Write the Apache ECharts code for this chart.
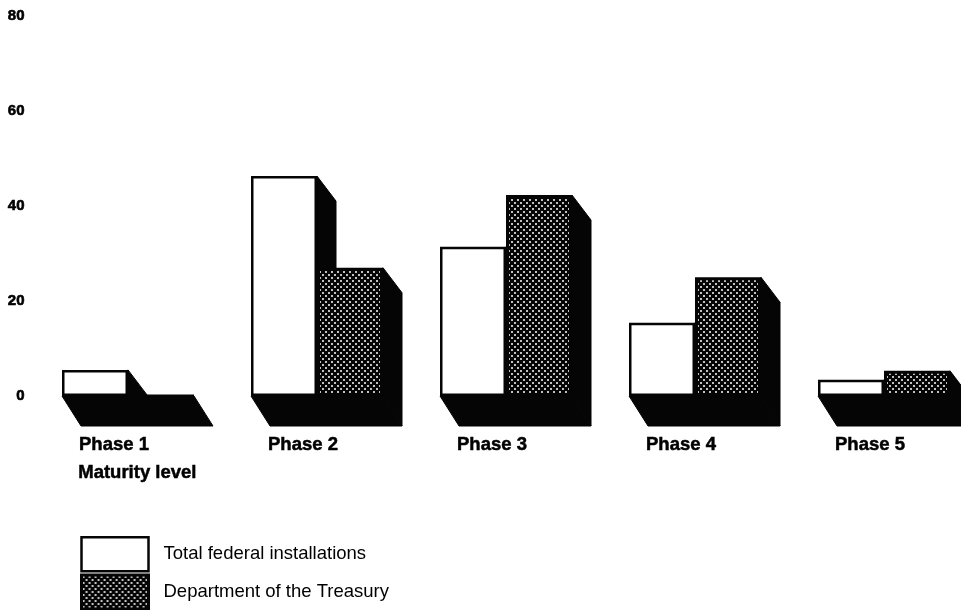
<!DOCTYPE html>
<html><head><meta charset="utf-8">
<style>html,body{margin:0;padding:0;background:#fff}#c{width:961px;height:610px;filter:blur(0.5px)}</style>
<script src="https://cdn.jsdelivr.net/npm/echarts@6/dist/echarts.min.js"></script>
</head><body><div id="c"></div>
<script>
const categories = ['Phase 1','Phase 2','Phase 3','Phase 4','Phase 5'];
const totalFederal = [5.5,46.3,31.4,15.4,3.4];
const treasury = [0,27,42.3,25,5.3];
const yTicks = [0,20,40,60,80];

const tile = document.createElement('canvas');
tile.width = 6; tile.height = 6;
const g = tile.getContext('2d');
g.fillStyle = '#050505'; g.fillRect(0,0,6,6);
g.fillStyle = '#c0c0c0'; g.fillRect(1,1,2,2); g.fillRect(4,4,2,2);
const pattern = {image: tile, repeat: 'repeat'};

const chart = echarts.init(document.getElementById('c'), null, {renderer:'canvas'});
const BAR = 66, DX = 19, TOPDY = 25, FLOOR = 30;

function renderShadow(params, api){
  const i = api.value(0);
  const zero = api.coord([i,0]);
  const cx = zero[0], y0 = zero[1];
  const a = api.coord([i, api.value(1)])[1];
  const b = api.coord([i, api.value(2)])[1];
  const floor = y0 + FLOOR;
  const l = cx-BAR, r = cx+BAR;
  const polys = [
    [[l,y0],[r,y0],[r+DX,floor],[l+DX,floor]],
    [[cx,a],[cx+DX,a+TOPDY],[cx+DX,y0+1],[cx,y0+1]]
  ];
  if (b < y0 - 0.5) polys.push([[r,b],[r+DX,b+TOPDY],[r+DX,floor],[r,y0]]);
  return {type:'group',children:polys.map(p=>({
    type:'polygon',shape:{points:p},style:{fill:'#050505',stroke:'#050505',lineWidth:1}
  }))};
}

chart.setOption({
  animation:false,
  backgroundColor:'#fff',
  textStyle:{fontFamily:'Liberation Sans'},
  grid:{left:33.5,top:16,width:945,height:380,outerBoundsMode:'none'},
  xAxis:{type:'category',data:categories,boundaryGap:true,
    axisLine:{show:false},axisTick:{show:false},splitLine:{show:false},
    axisLabel:{color:'#000',fontWeight:'bold',fontSize:18.5,fontFamily:'Liberation Sans',margin:39,padding:[0,28,0,0],interval:0,
      textBorderColor:'#000',textBorderWidth:0.5}},
  yAxis:{type:'value',min:0,max:80,interval:20,
    axisLine:{show:false},axisTick:{show:false},splitLine:{show:false},
    axisLabel:{color:'#000',fontWeight:'bold',fontSize:15,fontFamily:'Liberation Sans',margin:9,
      textBorderColor:'#000',textBorderWidth:0.6,customValues:yTicks}},
  legend:{orient:'vertical',left:80,top:536,height:120,width:500,padding:0,itemWidth:67,itemHeight:34,itemGap:1,
    textStyle:{color:'#000',fontSize:18.5,fontFamily:'Liberation Sans',padding:[0,0,0,10]},
    selectedMode:false,
    data:[
      {name:'Total federal installations',icon:'rect',itemStyle:{color:'#fff',borderColor:'#050505',borderWidth:2.5}},
      {name:'Department of the Treasury',icon:'rect',itemStyle:{color:pattern,borderColor:'#050505',borderWidth:3}}
    ]},
  graphic:[{type:'text',left:78,top:463,silent:true,
    style:{text:'Maturity level',fill:'#000',font:'bold 18.5px "Liberation Sans"',stroke:'#000',lineWidth:0.5}}],
  series:[
    {type:'custom',name:'depth',z:1,silent:true,clip:false,renderItem:renderShadow,
      encode:{x:0,y:1},
      data:categories.map((c,i)=>[i,totalFederal[i],treasury[i]])},
    {type:'bar',name:'Total federal installations',z:2,data:totalFederal,barWidth:BAR,barGap:'0%',clip:false,
      itemStyle:{color:'#fff',borderColor:'#050505',borderWidth:2.5}},
    {type:'bar',name:'Department of the Treasury',z:2,data:treasury,barWidth:BAR,barGap:'0%',clip:false,
      itemStyle:{color:pattern,borderColor:'#050505',borderWidth:3}}
  ]
});
</script></body></html>
